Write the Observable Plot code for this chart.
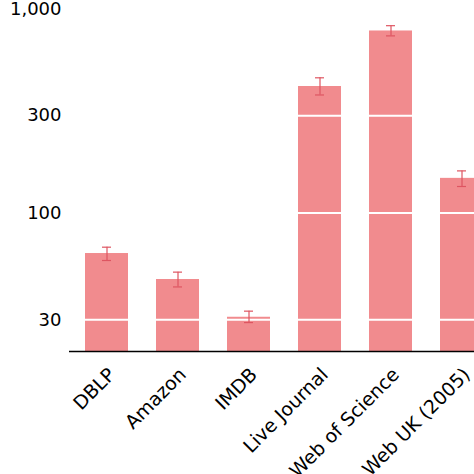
<!DOCTYPE html>
<html>
<head>
<meta charset="utf-8">
<script src="https://cdn.jsdelivr.net/npm/d3@7"></script>
<script src="https://cdn.jsdelivr.net/npm/@observablehq/plot@0.6"></script>
<style>
  html, body { margin: 0; padding: 0; background: white; overflow: hidden; }
</style>
</head>
<body>
<div id="chart"></div>
<script>
const names = ["DBLP", "Amazon", "IMDB", "Live Journal", "Web of Science", "Web UK (2005)"];
const values = [63.4, 47.3, 30.9, 417, 780, 148];
const lows = [58.6, 43.5, 29.1, 379, 738, 135];
const highs = [68.1, 51.4, 33.1, 460, 828, 161];
const yTicks = [30, 100, 300, 1000];
const yMin = 21;
const yMax = 1100;

const data = names.map((n, i) => ({name: n, value: values[i], lo: lows[i], hi: highs[i]}));

const barColor = "#f18b8e";
const errColor = "#de5561";

const chart = Plot.plot({
  width: 474,
  height: 474,
  marginLeft: 69,
  marginRight: 0,
  marginTop: 0,
  marginBottom: 123,
  style: {fontFamily: "DejaVu Sans", fontSize: "18px", color: "black", background: "white", overflow: "hidden"},
  x: {type: "band", domain: names, range: [69, 498], paddingInner: 0.4, paddingOuter: 0.2, axis: null},
  y: {type: "log", domain: [yMin, yMax], range: [351, 0], axis: null},
  marks: [
    Plot.barY(data, {x: "name", y1: yMin, y2: "value", fill: barColor}),
    Plot.ruleY(yTicks, {stroke: "white", strokeWidth: 2}),
    Plot.ruleX(data, {x: "name", y1: "lo", y2: "hi", stroke: errColor, strokeWidth: 1.2}),
    Plot.tickY(data, {x: "name", y: "lo", stroke: errColor, strokeWidth: 1.2, inset: 17}),
    Plot.tickY(data, {x: "name", y: "hi", stroke: errColor, strokeWidth: 1.2, inset: 17}),
    Plot.ruleY([yMin], {stroke: "black", strokeWidth: 1.6}),
    Plot.axisY({ticks: yTicks, tickSize: 0, tickPadding: 8, tickFormat: d3.format(","), fontSize: 18, fill: "black"}),
    Plot.text(data, {x: "name", y: yMin, text: "name", rotate: -45, textAnchor: "end", lineAnchor: "middle", dx: 5, dy: 20, fontSize: 19, fill: "black"})
  ]
});
document.getElementById("chart").appendChild(chart);
</script>
</body>
</html>
